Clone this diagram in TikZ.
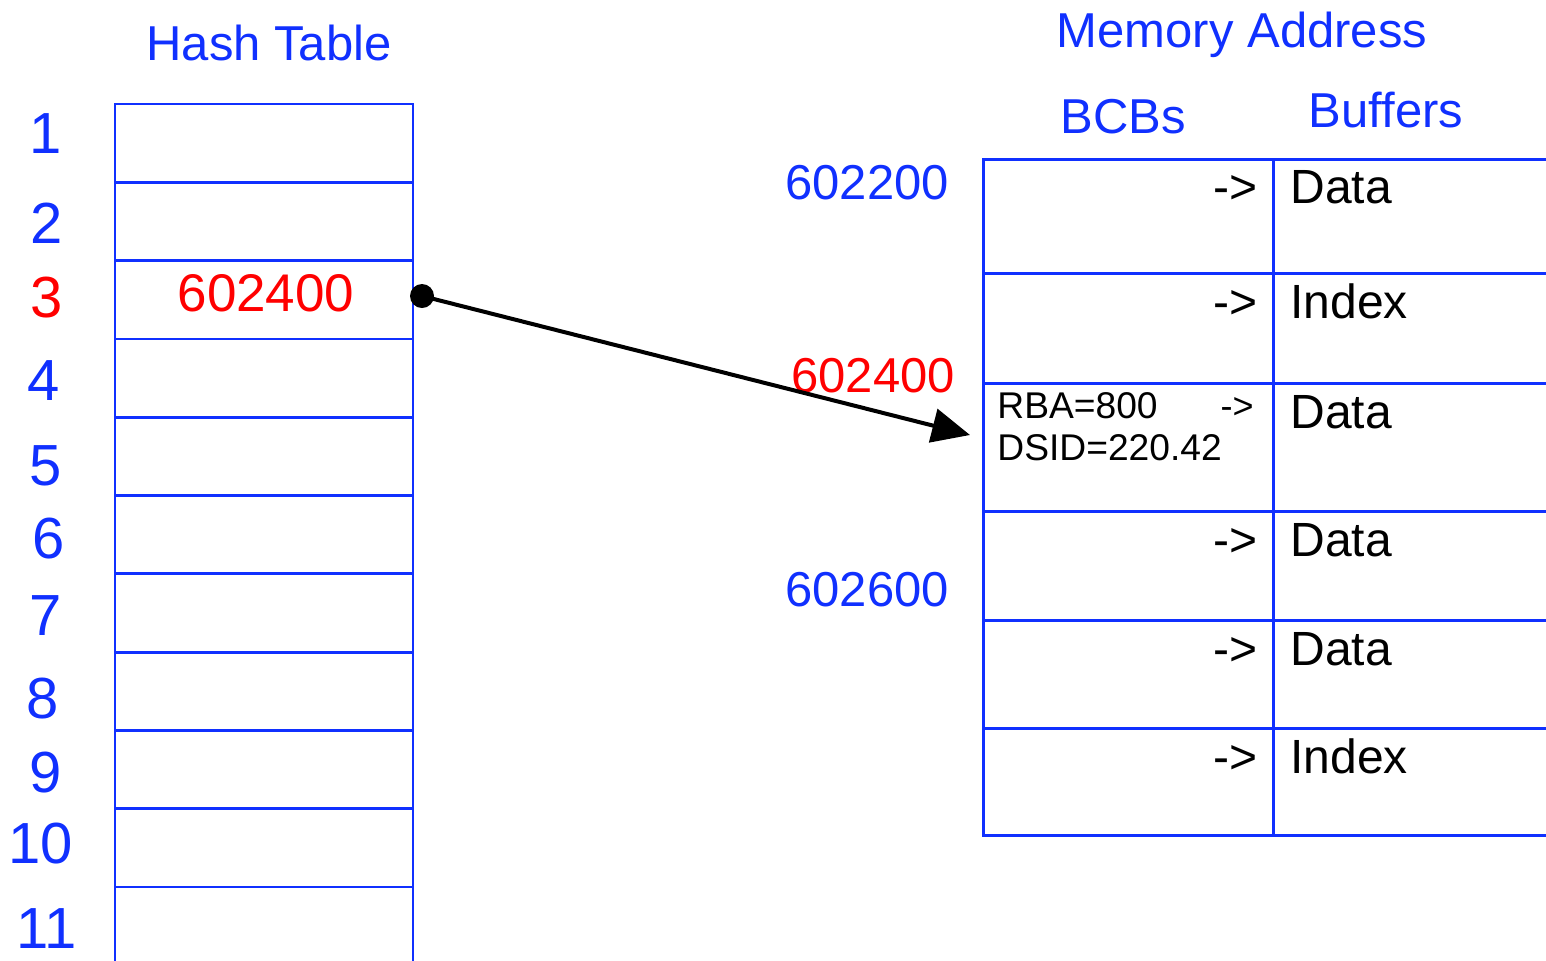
\documentclass[tikz,border=0pt]{standalone}
\usepackage{fontspec}
\setmainfont{Liberation Sans}
\usetikzlibrary{arrows.meta}
\definecolor{hblue}{RGB}{16,48,255}
\definecolor{hred}{RGB}{255,0,0}
\tikzset{
  cellline/.style={draw=hblue, line width=1.4pt, inner sep=0pt},
  htcell/.style={cellline, minimum width=149pt, minimum height=39.15pt},
  bcbcell/.style={cellline, anchor=north west, minimum width=145pt},
  bufcell/.style={cellline, anchor=north west, minimum width=200pt},
  idx/.style={anchor=base, inner sep=0pt, text=hblue, font=\fontsize{29}{33}\selectfont},
  title/.style={anchor=base, inner sep=0pt, text=hblue, font=\fontsize{24.5}{28}\selectfont},
  addr/.style={anchor=base west, inner sep=0pt, font=\fontsize{24.5}{28}\selectfont},
  buftxt/.style={anchor=base west, inner sep=0pt, font=\fontsize{24}{28}\selectfont},
  ptr/.style={anchor=base east, inner sep=0pt, font=\fontsize{24}{28}\selectfont},
  small/.style={anchor=base west, inner sep=0pt, font=\fontsize{18.6}{21}\selectfont},
}
\begin{document}
\begin{tikzpicture}[x=0.5pt, y=-0.5pt]
\useasboundingbox (0,0) rectangle (1546,960);
\clip (0,0) rectangle (1546,960);
\fill[white] (0,0) rectangle (1546,960);

% Hash table
\node[title] (httitle) at (269,60) {Hash Table};
\foreach \i in {1,...,11} {
  \node[htcell] (h\i) at (264,{104+78.3*(\i-0.5)}) {};
}
\node[idx] (n1) at (46,153) {1};
\node[idx] (n2) at (47,243) {2};
\node[idx, text=hred] (n3) at (47,317) {3};
\node[idx] (n4) at (44,400) {4};
\node[idx] (n5) at (46,485) {5};
\node[idx] (n6) at (49,558) {6};
\node[idx] (n7) at (46,635) {7};
\node[idx] (n8) at (43,718) {8};
\node[idx] (n9) at (46,792) {9};
\node[idx] (n10) at (41,863) {10};
\node[idx] (n11) at (47,948) {11};
\node[anchor=base, inner sep=0pt, text=hred, font=\fontsize{26.5}{30}\selectfont] (hval) at (266,311) {602400};

% Memory side
\node[title] (memtitle) at (1242,47) {Memory Address};
\node[title] (bcbtitle) at (1123,133) {BCBs};
\node[title] (buftitle) at (1386,127) {Buffers};

\node[bcbcell, minimum height=57pt] (b1) at (982,158) {};
\node[bcbcell, minimum height=55pt] (b2) at (982,272) {};
\node[bcbcell, minimum height=64pt] (b3) at (982,382) {};
\node[bcbcell, minimum height=54.5pt] (b4) at (982,510) {};
\node[bcbcell, minimum height=54pt] (b5) at (982,619) {};
\node[bcbcell, minimum height=53.5pt] (b6) at (982,727) {};
\node[bufcell, minimum height=57pt] (f1) at (1272,158) {};
\node[bufcell, minimum height=55pt] (f2) at (1272,272) {};
\node[bufcell, minimum height=64pt] (f3) at (1272,382) {};
\node[bufcell, minimum height=54.5pt] (f4) at (1272,510) {};
\node[bufcell, minimum height=54pt] (f5) at (1272,619) {};
\node[bufcell, minimum height=53.5pt] (f6) at (1272,727) {};

\node[addr, text=hblue] (a1) at (785,199) {602200};
\node[addr, text=hred] (a2) at (791,392) {602400};
\node[addr, text=hblue] (a3) at (785,606) {602600};

\node[buftxt] (d1) at (1290,203) {Data};
\node[buftxt] (d2) at (1290,318) {Index};
\node[buftxt] (d3) at (1290,428) {Data};
\node[buftxt] (d4) at (1290,556) {Data};
\node[buftxt] (d5) at (1290,665) {Data};
\node[buftxt] (d6) at (1290,773) {Index};

\node[ptr] (p1) at (1258,203) {->};
\node[ptr] (p2) at (1258,318) {->};
\node[ptr, font=\fontsize{18}{21}\selectfont] (p3) at (1254,418) {->};
\node[ptr] (p4) at (1258,556) {->};
\node[ptr] (p5) at (1258,665) {->};
\node[ptr] (p6) at (1258,773) {->};

\node[small] (rba) at (997,418) {RBA=800};
\node[small] (dsid) at (997,460) {DSID=220.42};

% Pointer arrow
\node[circle, fill=black, inner sep=0pt, minimum size=12pt] (dot) at (422,296) {};
\coordinate (tip) at (970,435);
\draw[line width=2pt, -{Triangle[length=19pt, width=17pt]}] (dot.center) -- (tip);
\end{tikzpicture}
\end{document}
